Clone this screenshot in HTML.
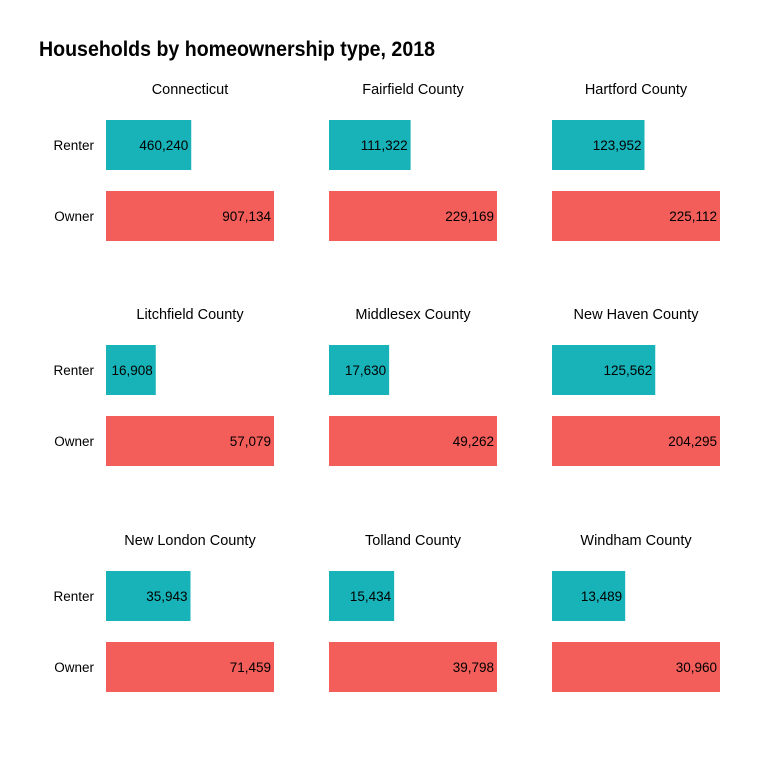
<!DOCTYPE html>
<html><head><meta charset="utf-8"><style>
body{margin:0;background:#fff;}
svg text{font-family:"Liberation Sans Narrow","Liberation Sans",sans-serif;}
</style></head><body>
<svg id="chart" width="768" height="768">
<text x="39" y="56" font-size="21" font-weight="bold" fill="#000" textLength="396" lengthAdjust="spacingAndGlyphs">Households by homeownership type, 2018</text>
</svg>
<script>
const regions=["Connecticut","Fairfield County","Hartford County","Litchfield County","Middlesex County","New Haven County","New London County","Tolland County","Windham County"];
const renters=[460240,111322,123952,16908,17630,125562,35943,15434,13489];
const owners=[907134,229169,225112,57079,49262,204295,71459,39798,30960];
const categories=["Renter","Owner"];
const svg=document.getElementById('chart');
const NS='http://www.w3.org/2000/svg';
const colX=[106,329,552], rowY=[120,345,571], W=168, BH=50, GAP=71;
function mk(t,a){const e=document.createElementNS(NS,t);for(const k in a)e.setAttribute(k,a[k]);svg.appendChild(e);return e;}
regions.forEach((r,i)=>{
  const x0=colX[i%3], y0=rowY[Math.floor(i/3)];
  const max=Math.max(renters[i],owners[i]);
  const xs=v=>v/max*W;
  const t=mk('text',{x:x0+W/2,y:y0-26,'font-size':14.5,'text-anchor':'middle',fill:'#000'});
  
  
  t.textContent=r;
  [renters[i],owners[i]].forEach((v,j)=>{
    const y=y0+j*GAP;
    const b=mk('rect',{x:x0,y:y,width:xs(v),height:BH,fill:j?'#f35e5a':'#17b3b8'});
    
    
    const l=mk('text',{x:x0+xs(v)-3,y:y+BH/2+5,'font-size':13.5,'text-anchor':'end',fill:'#000'});
    
    
    l.textContent=v.toLocaleString('en-US');
    if(i%3===0){
      const c=mk('text',{x:x0-12,y:y+BH/2+5,'font-size':13.5,'text-anchor':'end',fill:'#000'});
      
      
      c.textContent=categories[j];
    }
  });
});
</script>
</body></html>
